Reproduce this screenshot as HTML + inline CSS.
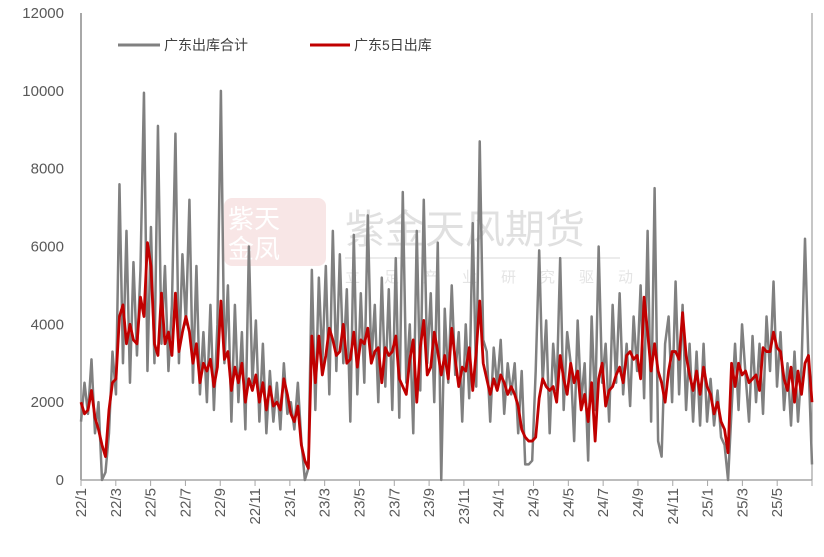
<!DOCTYPE html>
<html><head><meta charset="utf-8"><style>
body{margin:0;background:#fff;}
svg text{font-family:"Liberation Sans","Noto Sans CJK SC",sans-serif;}
</style></head><body>
<svg id="chart" width="824" height="552" viewBox="0 0 824 552" xmlns="http://www.w3.org/2000/svg">
<g opacity="0.55">
<rect x="224" y="198" width="102" height="68" rx="8" fill="#f3d3d3"/>
<text x="228" y="228" font-size="26" fill="#fff">紫天</text>
<text x="228" y="258" font-size="26" fill="#fff">金凤</text>
<text x="345" y="243" font-size="40" fill="#c8c8c8">紫金天风期货</text>
<line x1="345" y1="258" x2="620" y2="258" stroke="#ddd" stroke-width="2"/>
<text x="345" y="282" font-size="15" fill="#cfcfcf" letter-spacing="24">立足产业研究驱动</text>
</g>
<g id="axes"></g>
<g id="series"></g>
<g>
<line x1="118" y1="45" x2="160" y2="45" stroke="#808080" stroke-width="3"/>
<text x="164" y="50" font-size="14" fill="#404040">广东出库合计</text>
<line x1="310" y1="45" x2="350" y2="45" stroke="#c00000" stroke-width="3"/>
<text x="354" y="50" font-size="14" fill="#404040">广东5日出库</text>
</g>
</svg>
<script>
const xLabels=["22/1","22/3","22/5","22/7","22/9","22/11","23/1","23/3","23/5","23/7","23/9","23/11","24/1","24/3","24/5","24/7","24/9","24/11","25/1","25/3","25/5"];
const yTicks=[0,2000,4000,6000,8000,10000,12000];
const totalOut=[1500,2500,1700,3100,1200,2000,0,200,1200,3300,
2200,7600,3000,6400,2500,5600,3200,5400,9950,2800,
6500,3000,9100,3500,5500,2800,4500,8900,3000,5800,
4000,7200,2500,5500,2200,3800,2000,4500,1800,4000,
10000,3000,5000,1500,4500,2000,3800,1300,6000,2500,
4100,1500,3500,1200,2800,1500,2500,1300,3000,1700,
2000,1300,2500,1000,0,300,5400,1800,5200,3000,
5500,2200,6400,2800,5800,3000,4900,1500,6300,2200,
4800,2500,6800,3000,4500,2000,5200,2400,4900,1800,
5700,1600,7400,2500,4000,1200,6400,2300,7200,3000,
4800,2000,6100,0,4400,2500,5000,2700,3800,1500,
4000,2100,6600,2400,8700,3600,3300,1500,3400,2400,
3600,1700,3000,2200,3000,1200,2800,400,400,500,
2800,5900,2500,4100,1200,3500,2300,5700,1800,3800,
3000,1000,4100,2000,3000,500,4200,1800,6000,2500,
3500,1500,4500,2500,4800,2200,3500,1900,4200,2800,
5000,2100,6400,1500,7500,1000,600,3500,4200,2000,
5100,2200,4500,1800,3500,1500,3300,1400,3500,1500,
2600,1400,2300,1100,900,0,1800,3500,1800,4000,
2700,1500,3700,2000,3500,1700,4200,2800,5100,2400,
3800,1800,3000,1400,3300,1500,2900,6200,3000,400];
const ma5Out=[2000,1700,1800,2300,1600,1300,900,600,1800,2500,
2600,4200,4500,3500,4000,3600,3500,4700,4200,6100,
5500,3500,3200,4800,3500,3800,3200,4800,3300,3800,
4200,3800,3000,3500,2500,3000,2800,3100,2400,2900,
4600,3100,3300,2300,2900,2500,3000,2000,2600,2300,
2700,2000,2500,1800,2400,1900,2000,1800,2600,2200,
1700,1500,1900,900,500,300,3700,2500,3700,2700,
3200,3900,3600,3200,3300,4000,3000,3100,3800,2900,
3600,3500,3900,3000,3300,3400,2500,3400,3200,3300,
3700,2600,2400,2200,3100,3600,2000,3400,4100,2700,
2900,3800,3300,2700,3200,2600,3900,3100,2400,2900,
2800,3400,2300,3300,4600,3000,2600,2200,2600,2300,
2700,2500,2200,2400,2200,1900,1300,1100,1000,1000,
1100,2100,2600,2400,2300,2400,2000,3200,2600,2200,
3000,2500,2800,1800,2200,1500,2500,1000,2600,3000,
1900,2300,2400,2700,2900,2500,3200,3300,3100,3200,
2600,4700,3800,2800,3500,2800,2500,2000,2800,3300,
3300,3100,4300,3200,2700,2300,2800,2200,2900,2400,
2200,1700,2000,1500,1300,700,3000,2400,3000,2700,
2800,2500,2600,2700,2300,3400,3300,3300,3800,3400,
3300,2600,2300,2900,2000,2800,2200,3000,3200,2000];

const NS="http://www.w3.org/2000/svg";
const X0=81,X1=812,Y0=480,Y1=13;
const yScale=v=>Y0-(v/12000)*(Y0-Y1);
const xTick=i=>X0+i*(X1-X0)/21;
const xIdx=(i,n)=>X0+i*(X1-X0)/(n-1);
const axes=document.getElementById('axes');
const series=document.getElementById('series');
function mk(tag,attrs,parent){const e=document.createElementNS(NS,tag);for(const k in attrs)e.setAttribute(k,attrs[k]);parent.appendChild(e);return e;}

let a=mk('line',{x1:X0,y1:Y1,x2:X0,y2:Y0,stroke:'#8c8c8c','stroke-width':1.5},axes);


a=mk('line',{x1:X0,y1:Y0,x2:X1,y2:Y0,stroke:'#a6a6a6','stroke-width':1.5},axes);


a=mk('line',{x1:X1,y1:Y1,x2:X1,y2:Y0,stroke:'#8c8c8c','stroke-width':1},axes);



yTicks.forEach(v=>{
  const t=mk('text',{x:64,y:yScale(v)+5,'text-anchor':'end','font-size':15,fill:'#595959'},axes);
  t.textContent=v;
  
  
});
for(let i=0;i<=21;i++){
  const l=mk('line',{x1:xTick(i),y1:Y0,x2:xTick(i),y2:Y0+6,stroke:'#a6a6a6','stroke-width':1},axes);
  
  
}
xLabels.forEach((s,i)=>{
  const x=xTick(i)+5;
  const t=mk('text',{x:x,y:488,'text-anchor':'end','font-size':15,fill:'#595959',transform:`rotate(-90 ${x} 488)`},axes);
  t.textContent=s;
  
  
});
function line(arr,color,w,name){
  const d=arr.map((v,i)=>(i?'L':'M')+xIdx(i,arr.length).toFixed(2)+','+yScale(v).toFixed(2)).join('');
  const p=mk('path',{d:d,fill:'none',stroke:color,'stroke-width':w,'stroke-linejoin':'round'},series);
  
  
}
line(totalOut,'#808080',2.5,'total-outbound-line');
line(ma5Out,'#c00000',2.8,'ma5-outbound-line');
</script>
</body></html>
